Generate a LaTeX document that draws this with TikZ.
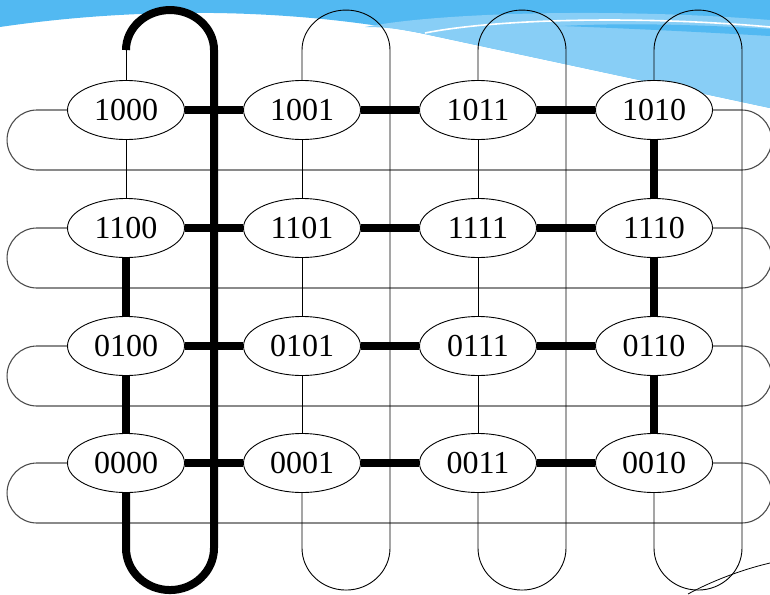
\documentclass[tikz,border=0pt]{standalone}
\usepackage{fontspec}
\setmainfont{Liberation Serif}
\usetikzlibrary{shapes.geometric}
\definecolor{skyA}{HTML}{52B9F2}
\definecolor{skyB}{HTML}{88CEF6}
\begin{document}
\begin{tikzpicture}[x=1pt,y=-1pt,
  vtx/.style={ellipse,draw=black,line width=0.9pt,fill=white,minimum width=117pt,minimum height=59pt,inner sep=0pt,font=\fontsize{32}{32}\selectfont},
  thinln/.style={line width=0.9pt,black},
  heavy/.style={line width=8pt,black},
  wrapln/.style={line width=1.1pt,black!70}]
\useasboundingbox (0,0) rectangle (770,594);
% background decoration
\fill[skyA] (0,0) -- (770,0) -- (770,108) -- (420,33) .. controls (300,10) and (150,5) .. (0,27) -- cycle;
\fill[skyB] (365,27) .. controls (440,12) and (620,8) .. (770,20) -- (770,108) -- (420,33) .. controls (400,29) and (385,27) .. cycle;
\fill[skyA] (560,26) .. controls (640,22) and (720,26) .. (770,29) -- (770,36) .. controls (700,32) and (620,28) .. cycle;
\draw[white,line width=1.6pt] (425,33) .. controls (500,18) and (650,16) .. (770,27);
\draw[black,line width=0.8pt] (688,594) .. controls (710,582) and (740,570) .. (770,563);
% nodes
\node[vtx] (n00) at (126,110) {1000};
\node[vtx] (n01) at (302,110) {1001};
\node[vtx] (n02) at (478,110) {1011};
\node[vtx] (n03) at (654,110) {1010};
\node[vtx] (n10) at (126,228) {1100};
\node[vtx] (n11) at (302,228) {1101};
\node[vtx] (n12) at (478,228) {1111};
\node[vtx] (n13) at (654,228) {1110};
\node[vtx] (n20) at (126,346) {0100};
\node[vtx] (n21) at (302,346) {0101};
\node[vtx] (n22) at (478,346) {0111};
\node[vtx] (n23) at (654,346) {0110};
\node[vtx] (n30) at (126,463) {0000};
\node[vtx] (n31) at (302,463) {0001};
\node[vtx] (n32) at (478,463) {0011};
\node[vtx] (n33) at (654,463) {0010};
% horizontal wrap-around links
\foreach \r in {0,1,2,3}{
  \draw[wrapln] (n\r0.west) -- ++(-30,0) arc[start angle=270,end angle=90,radius=30]
     -- ++(704.5,0) arc[start angle=90,end angle=-90,radius=30] -- (n\r3.east);
}
% vertical wrap-around links
\foreach \c in {1,2,3}{
  \draw[thinln] (n0\c.north) -- ++(0,-30) arc[start angle=180,end angle=360,x radius=44,y radius=40]
     -- ++(0,498) arc[start angle=0,end angle=180,x radius=44,y radius=42] -- (n3\c.south);
}
\draw[thinln] (n00.north) -- ++(0,-30) coordinate (a0);
\draw[heavy] (a0) arc[start angle=180,end angle=360,x radius=44,y radius=40]
     -- ++(0,498) arc[start angle=0,end angle=180,x radius=44,y radius=42] -- (n30.south);
% row links
\foreach \r in {0,1,2,3}{
  \draw[heavy] (n\r0) -- (n\r1);
  \draw[heavy] (n\r1) -- (n\r2);
  \draw[heavy] (n\r2) -- (n\r3);
}
% column links
\draw[thinln] (n00) -- (n10);
\draw[heavy] (n10) -- (n20);
\draw[heavy] (n20) -- (n30);
\foreach \c in {1,2}{
  \draw[thinln] (n0\c) -- (n1\c);
  \draw[thinln] (n1\c) -- (n2\c);
  \draw[thinln] (n2\c) -- (n3\c);
}
\draw[heavy] (n03) -- (n13);
\draw[heavy] (n13) -- (n23);
\draw[heavy] (n23) -- (n33);
\end{tikzpicture}
\end{document}
